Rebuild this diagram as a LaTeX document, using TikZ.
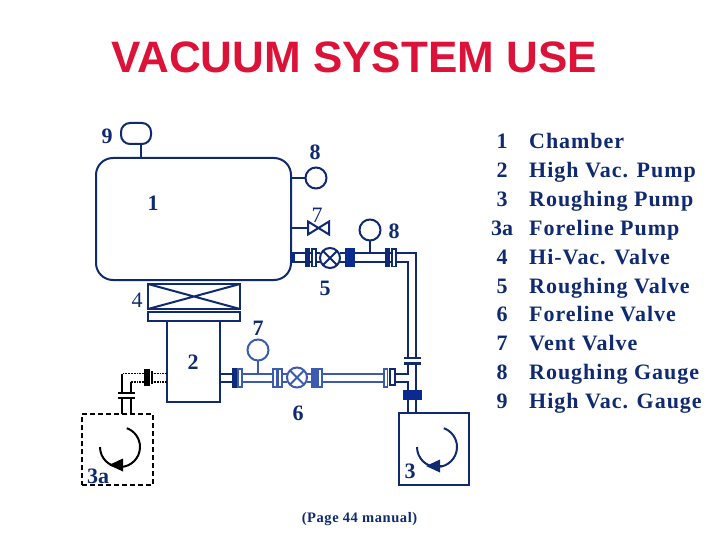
\documentclass[tikz,border=0pt]{standalone}
\usepackage{fontspec}
\setmainfont{Liberation Serif}
\newfontfamily\titlefont{Liberation Sans}
\usetikzlibrary{arrows.meta,calc}
\definecolor{navy}{HTML}{0F2A70}
\definecolor{lightb}{HTML}{3A5BB0}
\definecolor{solidb}{HTML}{0A2A90}
\definecolor{titlered}{HTML}{DC1238}
\tikzset{
  pipe/.style={navy,line width=2pt},
  lpipe/.style={lightb,line width=2pt},
  dpipe/.style={black,line width=1.8pt,densely dotted},
  kpipe/.style={black,line width=1.8pt},
  boxn/.style={draw=navy,line width=2pt,inner sep=0pt,outer sep=0pt},
  gaugec/.style={boxn,circle,minimum size=21pt,fill=white},
  lab/.style={text=navy,font=\fontsize{22}{22}\selectfont,inner sep=0pt},
  labbold/.style={text=navy,font=\fontsize{22}{22}\selectfont\bfseries,inner sep=0pt},
  listn/.style={text=navy,font=\fontsize{22}{22}\selectfont\bfseries,inner sep=0pt,anchor=base},
  listt/.style={text=navy,font=\fontsize{22}{22}\selectfont\bfseries,inner sep=0pt,anchor=base west},
}
\newcommand{\flangepair}[6]{% x1,x2,y1,y2,colour,fill
  \draw[#5,line width=1.5pt,fill=#6] (#1,#3) rectangle (#2,#4);}
\newcommand{\valvex}[4]{% name,x,y,colour
  \node[circle,draw=#4,line width=2pt,minimum size=20pt,inner sep=0,outer sep=0,fill=white] (#1) at (#2,#3) {};
  \draw[#4,line width=2pt] (#1.north west) -- (#1.south east) (#1.north east) -- (#1.south west);}
\begin{document}
\begin{tikzpicture}[x=1pt,y=-1pt]
\useasboundingbox (0,0) rectangle (720,540);
\node[text=titlered,font=\fontsize{44}{44}\titlefont\bfseries,inner sep=0,anchor=base west] (title) at (111,73) {VACUUM SYSTEM USE};
% chamber
\node[boxn,rounded corners=17pt,minimum width=195pt,minimum height=122pt,anchor=north west] (chamber) at (96,158) {};
\node[boxn,rounded corners=9pt,minimum width=30pt,minimum height=21pt,anchor=north west] (g9) at (121,123) {};
\draw[pipe] (141,144) -- (141,158);
\node[gaugec] (g8a) at (316,178) {};
\draw[pipe] (291,178) -- (g8a);
\coordinate (v7) at (318.5,228);
\draw[pipe] (291,228) -- (308,228);
\draw[pipe] (308,221.5) -- (329,234.5) -- (329,221.5) -- (308,234.5) -- cycle;
% roughing line top
\draw[pipe] (291,253) -- (320,253) (340,253) -- (416,253) -- (416,357);
\draw[pipe] (291,262) -- (320,262) (340,262) -- (408,262) -- (408,357);
\fill[solidb] (291,253) rectangle (295,262);
\flangepair{306}{309}{249}{266.5}{navy}{navy}
\flangepair{312}{316}{249}{266.5}{navy}{white}
\valvex{v5}{330}{258}{navy}
\flangepair{346}{354}{249}{266.5}{solidb}{solidb}
\flangepair{386}{389}{249}{266.5}{navy}{navy}
\flangepair{392}{396}{249}{266.5}{navy}{white}
\node[gaugec] (g8b) at (370,230) {};
\draw[pipe] (g8b) -- (370,253);
% hi-vac valve
\node[boxn,minimum width=92pt,minimum height=25pt,anchor=north west] (v4) at (148,284) {};
\draw[pipe] (v4.north west) -- (v4.south east) (v4.north east) -- (v4.south west);
\node[boxn,minimum width=92pt,minimum height=9pt,anchor=north west] (fl) at (148,312) {};
\node[boxn,minimum width=53pt,minimum height=81pt,anchor=north west] (p2) at (167,321) {};
% foreline
\draw[pipe] (220,373.5) -- (233,373.5) (220,382) -- (233,382);
\draw[lpipe] (242,373.5) -- (287,373.5) (242,382) -- (287,382);
\draw[lpipe] (307,373.5) -- (384,373.5) (307,382) -- (384,382);
\flangepair{233}{237}{369}{387}{navy}{solidb}
\flangepair{238}{242}{369}{387}{lightb}{white}
\flangepair{273}{277}{369}{387}{lightb}{white}
\flangepair{278}{282}{369}{387}{lightb}{white}
\valvex{v6}{297}{377.5}{lightb}
\flangepair{312}{317}{369}{387}{lightb}{lightb}
\flangepair{318}{322}{369}{387}{lightb}{white}
\node[gaugec,draw=lightb] (g7) at (258,350) {};
\draw[lpipe] (g7) -- (258,373.5);
\flangepair{384}{387.5}{369}{387}{lightb}{white}
\flangepair{390}{395}{369}{385}{navy}{white}
\draw[pipe] (395,373.5) -- (408,373.5) -- (408,364) (395,382) -- (408,382) -- (408,391);
\draw[pipe] (416,364) -- (416,391);
\draw[navy,line width=2.8pt] (404,358) -- (421,358) (404,363.5) -- (421,363.5);
\flangepair{404}{421}{391}{399}{solidb}{solidb}
\draw[pipe] (408,399) -- (408,413) (416,399) -- (416,413);
% pump 3
\node[boxn,minimum width=70pt,minimum height=72pt,anchor=north west] (p3) at (399,413) {};
\draw[navy,line width=2pt] (417,447) arc[start angle=180,end angle=-70,radius=20];
\fill[navy] (426,466) -- (440,459.5) -- (440,472.5) -- cycle;
\draw[navy,line width=2pt] (438,466) -- (444,466);
% pump 3a
\node[draw=black,line width=2pt,dash pattern=on 5pt off 3pt,minimum width=71pt,minimum height=71pt,inner sep=0,outer sep=0,anchor=north west] (p3a) at (82,414) {};
\draw[black,line width=2pt] (100,447) arc[start angle=180,end angle=-70,radius=20];
\fill[black] (109,465) -- (123,458.5) -- (123,471.5) -- cycle;
\draw[dpipe] (167,373.5) -- (153,373.5) (167,382) -- (153,382) (144,373.5) -- (122,373.5) (144,382) -- (131,382);
\draw[kpipe] (122,373.5) -- (122,392) (131,382) -- (131,392) (122,399) -- (122,414) (131,399) -- (131,414);
\fill[black] (144,369) rectangle (150,386);
\fill[black] (151,371) rectangle (153,384);
\draw[black,line width=2.6pt] (118,393) -- (135,393) (118,398) -- (135,398);
% labels
\node[labbold] (l9) at (107,136) {9};
\node[labbold] (l1) at (153,203) {1};
\node[labbold] (l8a) at (315,152) {8};
\node[lab] (l7a) at (317,215) {7};
\node[labbold] (l8b) at (394,231) {8};
\node[labbold] (l5) at (325,288) {5};
\node[lab] (l4) at (137,300) {4};
\node[labbold] (l7b) at (258,328) {7};
\node[labbold] (l2) at (193,362) {2};
\node[labbold] (l6) at (298,413) {6};
\node[labbold] (l3) at (410,471) {3};
\node[labbold] (l3a) at (98,476) {3a};
\node[font=\fontsize{14.5}{14.5}\selectfont\bfseries,text=navy,inner sep=0] (foot) at (359.5,519) {\addfontfeature{LetterSpace=4}(Page 44 manual)};
% legend
\foreach \n/\t [count=\i from 0] in {1/Chamber,2/High Vac. Pump,3/Roughing Pump,3a/Foreline Pump,4/Hi-Vac. Valve,5/Roughing Valve,6/Foreline Valve,7/Vent Valve,8/Roughing Gauge,9/High Vac. Gauge}{
  \node[listn] (n\i) at (502,149+28.8*\i) {\n};
  \node[listt] (t\i) at (529,149+28.8*\i) {\addfontfeature{LetterSpace=4.4}\t};
}
\end{tikzpicture}
\end{document}
